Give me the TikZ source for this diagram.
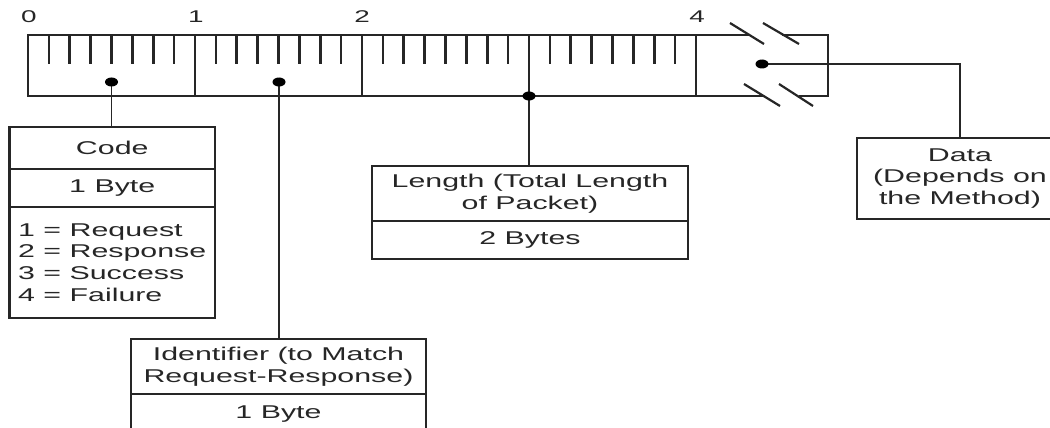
\documentclass[tikz,border=0pt]{standalone}
\usepackage{fontspec}
\setmainfont{Liberation Sans}[FakeStretch=1.64]
\usetikzlibrary{positioning}
\begin{document}
\begin{tikzpicture}[x=1pt,y=-1pt,
  ln/.style={draw=black!85,line width=2.2pt},
  conn/.style={draw=black!85,line width=1.8pt},
  fld/.style={draw=black!85,line width=2.2pt,inner sep=0pt,align=center,text=black!85,
    font=\fontsize{18.5pt}{21.7pt}\selectfont},
  num/.style={inner sep=0pt,text=black!85,font=\fontsize{17pt}{19pt}\selectfont},
  dot/.style={fill=black,draw=none}]
\useasboundingbox (0,0) rectangle (1050,428);

% ruler labels
\node[num] (l0) at (29,17) {0};
\node[num] (l1) at (196,17) {1};
\node[num] (l2) at (362,17) {2};
\node[num] (l4) at (697,17) {4};

% ruler outline with break
\draw[ln] (749.4,35) -- (28,35) -- (28,96) -- (763.6,96);
\draw[ln] (782.4,35) -- (828,35) -- (828,96) -- (798.6,96);
\foreach \b in {1,2,3,4}{
  \draw[ln] ({28+167*\b},35) -- ({28+167*\b},96);
}
\foreach \b in {0,1,2,3}{
  \foreach \k in {1,...,7}{
    \draw[ln,line width=2.6pt] ({28+167*\b+20.875*\k},35) -- ({28+167*\b+20.875*\k},64);
  }
}
% break slashes
\draw[ln] (730,23) -- (764,44);
\draw[ln] (763,23) -- (799,44);
\draw[ln] (744,84) -- (780,106);
\draw[ln] (779,84) -- (813,106);

% dots
\coordinate (dCode) at (111.5,82);
\coordinate (dId) at (279,82);
\coordinate (dLen) at (529,96);
\coordinate (dData) at (762,64);

% Code box
\node[fld,minimum width=205.5pt,minimum height=42pt] (codeA) at (112.25,148) {Code};
\node[fld,minimum width=205.5pt,minimum height=38pt] (codeB) at (112.25,188) {1 Byte};
\node[fld,minimum width=205.5pt,minimum height=111pt,align=left] (codeC) at (112.25,262.5)
  {1 = Request\\2 = Response\\3 = Success\\4 = Failure};

% Identifier box
\node[fld,minimum width=295pt,minimum height=55pt] (idA) at (278.5,366.5)
  {Identifier (to Match\\Request-Response)};
\node[fld,minimum width=295pt,minimum height=40pt] (idB) at (278.5,414) {1 Byte};

% Length box
\node[fld,minimum width=316pt,minimum height=55pt] (lenA) at (530,193.5)
  {Length (Total Length\\of Packet)};
\node[fld,minimum width=316pt,minimum height=38pt] (lenB) at (530,240) {2 Bytes};

% Data box
\node[fld,minimum width=206pt,minimum height=81pt] (dataA) at (960,178.5)
  {Data\\(Depends on\\the Method)};

% connectors
\draw[conn] (dCode) -- (dCode |- codeA.north);
\draw[conn] (dId) -- (dId |- idA.north);
\draw[conn] (dLen) -- (dLen |- lenA.north);
\draw[conn] (dData) -| (dataA.north);

\fill[dot] (dCode) ellipse (6.5 and 4.5);
\fill[dot] (dId) ellipse (6.5 and 4.5);
\fill[dot] (dLen) ellipse (6.5 and 4.5);
\fill[dot] (dData) ellipse (6.5 and 4.5);
\end{tikzpicture}
\end{document}
